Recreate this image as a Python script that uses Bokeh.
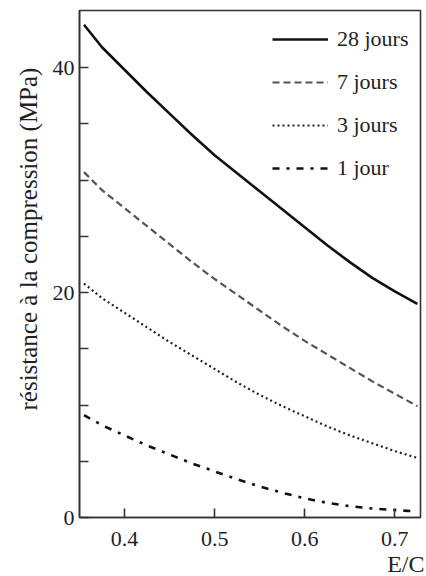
from bokeh.plotting import figure
from bokeh.models import Range1d, FixedTicker, Legend, LegendItem, Title
from bokeh.embed import file_html
from bokeh.resources import INLINE

# ---- data ----
e_c = [0.355, 0.375, 0.40, 0.425, 0.45, 0.475, 0.50, 0.525,
       0.55, 0.575, 0.60, 0.625, 0.65, 0.675, 0.70, 0.725]
jours_28 = [43.8, 41.8, 39.8, 37.8, 35.9, 34.0, 32.2, 30.6,
            29.0, 27.4, 25.8, 24.2, 22.7, 21.3, 20.1, 19.0]
jours_7 = [30.7, 29.1, 27.5, 25.9, 24.3, 22.7, 21.2, 19.8,
           18.4, 17.0, 15.7, 14.5, 13.3, 12.1, 11.0, 9.9]
jours_3 = [20.8, 19.5, 18.2, 16.9, 15.6, 14.4, 13.2, 12.0,
           10.9, 9.9, 9.0, 8.1, 7.3, 6.6, 5.9, 5.3]
jour_1 = [9.1, 8.2, 7.3, 6.4, 5.6, 4.8, 4.1, 3.4,
          2.75, 2.2, 1.7, 1.3, 1.0, 0.8, 0.66, 0.54]
series_labels = ["28 jours", "7 jours", "3 jours", "1 jour"]
x_ticks = [0.4, 0.5, 0.6, 0.7]
y_ticks = [0, 20, 40]
y_minor_ticks = [5, 10, 15, 25, 30, 35]
x_title = "E/C"
y_title = "résistance à la compression (MPa)"

FONT = "Liberation Serif"
INK = "#222222"

p = figure(width=426, height=576, output_backend="svg", toolbar_location=None,
           x_range=Range1d(0.35, 0.7285), y_range=Range1d(0, 45.07),
           min_border_left=79, min_border_right=6, min_border_top=10, min_border_bottom=59)
p.background_fill_color = "white"
p.border_fill_color = "white"
p.grid.visible = False
p.outline_line_color = "#333333"
p.outline_line_width = 1.6

for ax in (p.xaxis[0], p.yaxis[0]):
    ax.axis_line_color = "#333333"
    ax.axis_line_width = 1.6
    ax.major_tick_line_color = "#333333"
    ax.major_tick_line_width = 1.6
    ax.minor_tick_line_color = "#333333"
    ax.minor_tick_line_width = 1.6
    ax.major_tick_in = 9
    ax.major_tick_out = 0
    ax.minor_tick_in = 9
    ax.minor_tick_out = 0
    ax.major_label_text_font = FONT
    ax.major_label_text_font_size = "22px"
    ax.major_label_text_color = INK

p.xaxis[0].ticker = FixedTicker(ticks=x_ticks)
p.xaxis[0].major_label_standoff = 14
p.yaxis[0].ticker = FixedTicker(ticks=y_ticks, minor_ticks=y_minor_ticks)
p.yaxis[0].major_label_standoff = 5

r_a = p.line(e_c, jours_28, line_color="#111111", line_width=2.6)
r_b = p.line(e_c, jours_7, line_color="#555555", line_width=2.2, line_dash="7 4")
r_c = p.line(e_c, jours_3, line_color="#222222", line_width=2.2, line_dash="2 3")
r_d = p.line(e_c, jour_1, line_color="#111111", line_width=2.6, line_dash="7 7 3 7")

legend = Legend(items=[LegendItem(label=series_labels[0], renderers=[r_a]),
                       LegendItem(label=series_labels[1], renderers=[r_b]),
                       LegendItem(label=series_labels[2], renderers=[r_c]),
                       LegendItem(label=series_labels[3], renderers=[r_d])],
                location=(193, 336), padding=0, margin=0, spacing=17,
                glyph_width=56, glyph_height=20, label_height=20, label_standoff=9,
                label_text_font=FONT, label_text_font_size="22px",
                label_text_color=INK, border_line_color=None,
                background_fill_alpha=0)
p.add_layout(legend)

p.add_layout(Title(text=x_title, align="right", offset=-4, text_font=FONT,
                   text_font_size="24px", text_font_style="normal", text_color=INK,
                   standoff=0), "below")
p.add_layout(Title(text=y_title, align="left", offset=107, text_font=FONT,
                   text_font_size="25px", text_font_style="normal", text_color=INK,
                   standoff=16), "left")

open("out.html", "w").write(file_html(p, INLINE))
